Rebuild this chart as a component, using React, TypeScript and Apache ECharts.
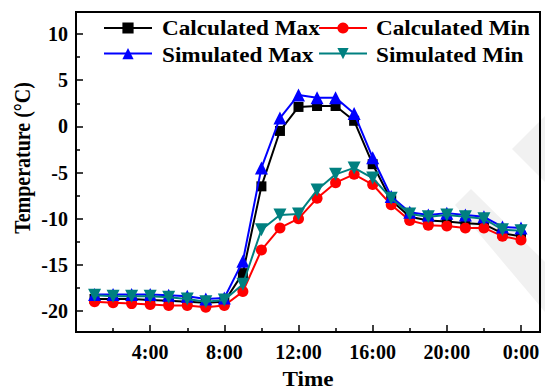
import React, { useEffect, useRef } from "react";
import * as echarts from "echarts";

// Hourly temperature records (°C), hours 1..24 (24 = midnight)
const hours = [1, 2, 3, 4, 5, 6, 7, 8, 9, 10, 11, 12, 13, 14, 15, 16, 17, 18, 19, 20, 21, 22, 23, 24];

const calculatedMax = [
  -18.7, -18.7, -18.7, -18.8, -18.9, -19.0, -19.1, -19.0, -15.9, -6.5, -0.5, 2.1,
  2.2, 2.2, 0.6, -4.1, -8.0, -9.8, -10.2, -10.3, -10.5, -10.6, -11.6, -11.9,
];
const calculatedMin = [
  -19.0, -19.1, -19.2, -19.3, -19.4, -19.4, -19.6, -19.4, -17.9, -13.4, -11.0, -10.0,
  -7.8, -6.1, -5.2, -6.3, -8.5, -10.2, -10.7, -10.8, -11.0, -11.0, -11.9, -12.3,
];
const simulatedMax = [
  -18.2, -18.2, -18.2, -18.2, -18.3, -18.4, -18.7, -18.6, -14.6, -4.5, 0.9, 3.4,
  3.1, 3.1, 1.4, -3.4, -7.6, -9.3, -9.6, -9.4, -9.6, -9.8, -10.9, -11.0,
];
const simulatedMin = [
  -18.3, -18.4, -18.4, -18.4, -18.5, -18.7, -19.0, -18.8, -17.1, -11.2, -9.6, -9.5,
  -6.9, -5.2, -4.5, -5.6, -7.8, -9.5, -9.8, -9.6, -9.8, -10.0, -11.2, -11.3,
];

const seriesNames = ["Calculated Max", "Calculated Min", "Simulated Max", "Simulated Min"];
const seriesColors = ["#000000", "#ff0000", "#0000ff", "#008080"];

const FONT = "'Liberation Serif', 'Times New Roman', serif";
const WIDE = 1.16; // horizontal stretch of the bold captions

const pairs = (vals: number[]) => hours.map((h, i) => [h, vals[i]]);

const formatHour = (v: number) => {
  if (v === 0) return "";
  if (v === 24) return "0:00";
  return `${v}:00`;
};

const caption = (text: string, x: number, y: number, align: "left" | "center") => ({
  type: "text",
  x,
  y,
  scaleX: WIDE,
  z: 110,
  silent: true,
  style: {
    text,
    fontFamily: FONT,
    fontWeight: "bold",
    fontSize: 20,
    fill: "#000",
    align,
    verticalAlign: "middle",
  },
});

export default function App() {
  const ref = useRef<HTMLDivElement>(null);

  useEffect(() => {
    if (!ref.current) return;
    const chart = echarts.init(ref.current, undefined, { renderer: "svg" });

    const mk = (
      idx: number,
      vals: number[],
      symbol: string,
      size: number,
      rotate = 0
    ) => ({
      name: seriesNames[idx],
      type: "line",
      data: pairs(vals),
      symbol,
      symbolSize: size,
      symbolRotate: rotate,
      showAllSymbol: true,
      clip: false,
      color: seriesColors[idx],
      lineStyle: { color: seriesColors[idx], width: 2 },
      itemStyle: { color: seriesColors[idx] },
      z: 2 + idx,
    });

    const legendBase = {
      orient: "vertical",
      top: 21,
      padding: 0,
      itemWidth: 48,
      itemHeight: 14,
      itemGap: 13,
      formatter: () => "",
      textStyle: { fontSize: 12, padding: 0 },
    };

    chart.setOption({
      animation: false,
      backgroundColor: "#ffffff",
      grid: { left: 76, right: 24, top: 34, bottom: 79, containLabel: false },
      legend: [
        { ...legendBase, data: [seriesNames[0], seriesNames[2]], left: 103 },
        { ...legendBase, data: [seriesNames[1], seriesNames[3]], left: 318 },
      ],
      xAxis: {
        type: "value",
        min: 0,
        max: 24,
        interval: 4,
        offset: 21,
        axisLine: { show: false, onZero: false },
        axisTick: { show: true, inside: true, length: 7, lineStyle: { color: "#000", width: 1.5 } },
        minorTick: { show: true, splitNumber: 2, length: 4, lineStyle: { color: "#000", width: 1.5 } },
        splitLine: { show: false },
        axisLabel: {
          formatter: formatHour,
          margin: 10,
          fontFamily: FONT,
          fontWeight: "bold",
          fontSize: 20,
          color: "#000",
        },
      },
      yAxis: {
        type: "value",
        min: -20,
        max: 10,
        interval: 5,
        axisLine: { show: false, onZero: false },
        axisTick: { show: true, inside: true, length: 7, lineStyle: { color: "#000", width: 1.5 } },
        minorTick: { show: true, splitNumber: 2, length: 4, lineStyle: { color: "#000", width: 1.5 } },
        splitLine: { show: false },
        axisLabel: {
          margin: 8,
          fontFamily: FONT,
          fontWeight: "bold",
          fontSize: 20,
          color: "#000",
        },
      },
      graphic: [
        {
          type: "polygon",
          z: 0,
          silent: true,
          shape: { points: [[512, 149], [545, 116], [545, 182]] },
          style: { fill: "#f1f1f1" },
        },
        {
          type: "polygon",
          z: 0,
          silent: true,
          shape: { points: [[471, 189], [545, 262], [545, 312], [455, 205]] },
          style: { fill: "#f1f1f1" },
        },
        {
          type: "rect",
          z: 100,
          silent: true,
          shape: { x: 76, y: 12, width: 464, height: 320 },
          style: { fill: "none", stroke: "#000", lineWidth: 2 },
        },
        caption("Calculated Max", 162, 29, "left"),
        caption("Simulated Max", 162, 56, "left"),
        caption("Calculated Min", 376, 29, "left"),
        caption("Simulated Min", 376, 56, "left"),
        caption("Time", 308, 380, "center"),
        {
          type: "text",
          x: 23,
          y: 158,
          rotation: Math.PI / 2,
          scaleY: WIDE,
          silent: true,
          style: {
            text: "Temperature (°C)",
            fontFamily: FONT,
            fontWeight: "bold",
            fontSize: 20,
            fill: "#000",
            align: "center",
            verticalAlign: "middle",
          },
        },
      ],
      series: [
        mk(0, calculatedMax, "rect", 10),
        mk(1, calculatedMin, "circle", 11),
        mk(2, simulatedMax, "triangle", 13),
        mk(3, simulatedMin, "triangle", 13, 180),
      ],
    });

    return () => chart.dispose();
  }, []);

  return (
    <div
      ref={ref}
      style={{ position: "fixed", left: 0, top: 0, width: 545, height: 390 }}
    />
  );
}
